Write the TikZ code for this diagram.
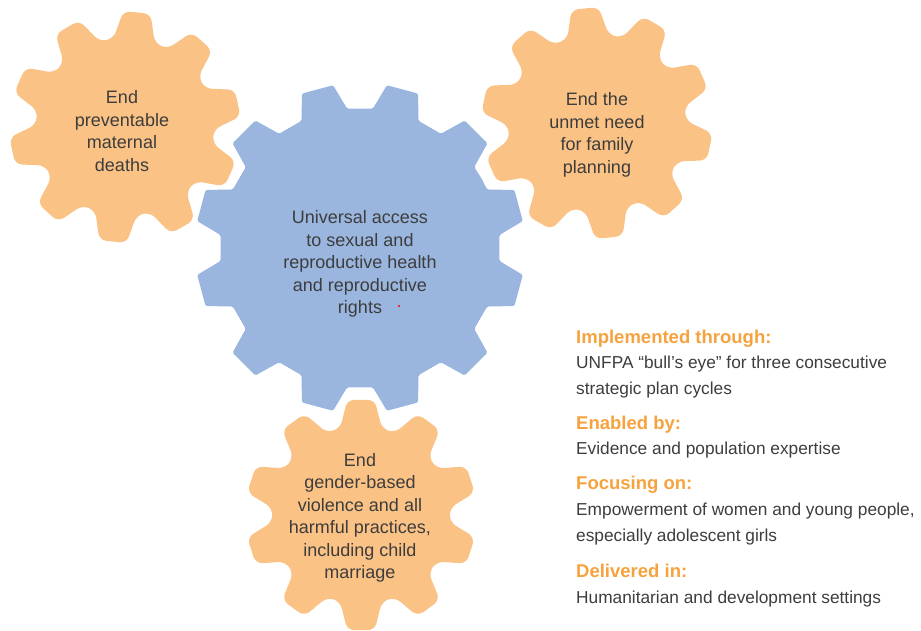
\documentclass[tikz,border=0pt]{standalone}
\usepackage{fontspec}
\setmainfont{Liberation Sans}
\definecolor{gearorange}{HTML}{FAC285}
\definecolor{gearblue}{HTML}{9AB6DF}
\definecolor{headorange}{HTML}{F6A23E}
\definecolor{textgray}{HTML}{3D3D3D}
% style, centre, teeth, first tooth angle, root r, tip r, tip half angle, base half angle
\newcommand{\gear}[8]{%
  \pgfmathsetmacro{\gearpitch}{360/#3}
  \fill[#1,shift={#2}] (#4+\gearpitch/2:#5)
    \foreach \k [evaluate=\k as \ga using #4+\k*\gearpitch] in {1,...,#3}
      { -- (\ga-#8:#5) -- (\ga-#7:#6) -- (\ga+#7:#6) -- (\ga+#8:#5) } -- cycle;
}

\begin{document}
\begin{tikzpicture}[x=1pt,y=1pt,
  smallgear/.style={fill=gearorange,rounded corners=7pt},
  biggear/.style={fill=gearblue,rounded corners=1.5pt},
  geartext/.style={align=center,text=textgray,font=\fontsize{18}{22.5}\selectfont},
  head/.style={anchor=base west,inner sep=0pt,text=headorange,font=\bfseries\fontsize{18.5}{22}\selectfont},
  body/.style={anchor=base west,inner sep=0pt,align=left,text=textgray,font=\fontsize{17.3}{25.5}\selectfont}]
\useasboundingbox (0,0) rectangle (921,-630);

\gear{smallgear}{(125,-127)}{10}{84}{89}{116}{6.8}{13.5}
\gear{smallgear}{(597,-123)}{10}{96}{89}{116}{6.8}{13.5}
\gear{smallgear}{(361,-515)}{10}{90}{89}{116}{6.8}{13.5}
\gear{biggear}{(360,-248)}{12}{15}{140}{165}{5.6}{9.7}
\fill[red] (399,-306) circle (1.2);

\node[geartext] (maternal) at (122,-131) {End\\preventable\\maternal\\deaths};
\node[geartext] (family) at (597,-135) {End the\\unmet need\\for family\\planning};
\node[geartext] (srhr) at (360,-264) {Universal access\\to sexual and\\reproductive health\\and reproductive\\rights};
\node[geartext] (gbv) at (360,-518) {End\\gender-based\\violence and all\\harmful practices,\\including child\\marriage};

% two-line texts sit on the baseline of their last line
\node[head] (impl) at (576,-343) {Implemented through:};
\node[body] (impl-t) at (576,-394) {UNFPA “bull’s eye” for three consecutive\\strategic plan cycles};
\node[head] (enab) at (576,-429) {Enabled by:};
\node[body] (enab-t) at (576,-454) {Evidence and population expertise};
\node[head] (focus) at (576,-489) {Focusing on:};
\node[body] (focus-t) at (576,-541) {Empowerment of women and young people,\\especially adolescent girls};
\node[head] (deliv) at (576,-577) {Delivered in:};
\node[body] (deliv-t) at (576,-603) {Humanitarian and development settings};
\end{tikzpicture}
\end{document}
